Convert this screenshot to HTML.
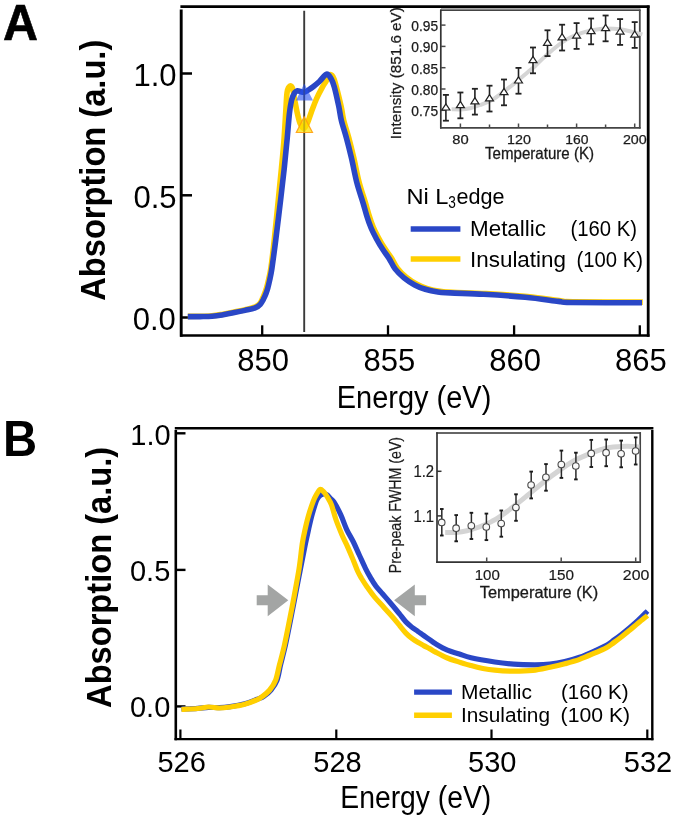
<!DOCTYPE html>
<html><head><meta charset="utf-8"><title>Figure</title>
<style>
html,body{margin:0;padding:0;background:#fff;}
body{width:675px;height:820px;overflow:hidden;font-family:"Liberation Sans",sans-serif;}
svg{display:block;will-change:transform;}
</style></head>
<body>
<svg width="675" height="820" viewBox="0 0 675 820">
<rect width="675" height="820" fill="#fff"/>
<line x1="180.4" y1="6.7" x2="649.6" y2="6.7" stroke="#000" stroke-width="2.7"/>
<line x1="181.2" y1="9.4" x2="181.2" y2="336.7" stroke="#000" stroke-width="2.9"/>
<line x1="180" y1="335.5" x2="649.5" y2="335.5" stroke="#000" stroke-width="2.4"/>
<line x1="648.2" y1="5.5" x2="648.2" y2="336.7" stroke="#000" stroke-width="2.8"/>
<line x1="181" y1="73.5" x2="192" y2="73.5" stroke="#000" stroke-width="2.5"/>
<line x1="181" y1="195.3" x2="192" y2="195.3" stroke="#000" stroke-width="2.5"/>
<line x1="181" y1="317.5" x2="192" y2="317.5" stroke="#000" stroke-width="2.5"/>
<line x1="262.2" y1="325.3" x2="262.2" y2="335.5" stroke="#000" stroke-width="2.3"/>
<line x1="388" y1="325.3" x2="388" y2="335.5" stroke="#000" stroke-width="2.3"/>
<line x1="514.1" y1="325.3" x2="514.1" y2="335.5" stroke="#000" stroke-width="2.3"/>
<line x1="639.8" y1="325.3" x2="639.8" y2="335.5" stroke="#000" stroke-width="2.3"/>
<text x="176.5" y="85.5" font-family="Liberation Sans, sans-serif" font-size="31" text-anchor="end">1.0</text>
<text x="176.5" y="207.6" font-family="Liberation Sans, sans-serif" font-size="31" text-anchor="end">0.5</text>
<text x="175.8" y="329.6" font-family="Liberation Sans, sans-serif" font-size="31" text-anchor="end">0.0</text>
<text x="263.1" y="371" font-family="Liberation Sans, sans-serif" font-size="31" text-anchor="middle">850</text>
<text x="389.3" y="371" font-family="Liberation Sans, sans-serif" font-size="31" text-anchor="middle">855</text>
<text x="515.2" y="371" font-family="Liberation Sans, sans-serif" font-size="31" text-anchor="middle">860</text>
<text x="640.8" y="371" font-family="Liberation Sans, sans-serif" font-size="31" text-anchor="middle">865</text>
<text transform="translate(104.8,300.7) rotate(-90)" font-family="Liberation Sans, sans-serif" font-weight="bold" font-size="34.5" textLength="261" lengthAdjust="spacingAndGlyphs">Absorption (a.u.)</text>
<text x="336.8" y="407.9" font-family="Liberation Sans, sans-serif" font-size="31" textLength="154.5" lengthAdjust="spacingAndGlyphs">Energy (eV)</text>
<text transform="translate(3.1,39.6) scale(0.97,1)" font-family="Liberation Sans, sans-serif" font-weight="bold" font-size="50" stroke="#000" stroke-width="0.6">A</text>
<path d="M187.8,316.4 C189.8,316.4 196.0,316.4 200.0,316.3 C204.0,316.2 208.3,316.1 212.0,315.8 C215.7,315.5 218.4,315.0 222.0,314.4 C225.6,313.8 229.5,313.0 233.3,312.2 C237.1,311.4 241.3,310.7 245.0,309.8 C248.7,308.9 252.7,307.9 255.2,306.9 C257.7,305.8 258.6,304.9 259.8,303.5 C261.0,302.1 261.7,300.1 262.6,298.3 C263.5,296.5 264.3,294.4 265.0,292.5 C265.7,290.6 266.2,289.2 266.8,287.0 C267.4,284.8 268.0,282.2 268.7,279.0 C269.4,275.8 269.9,274.9 270.9,268.0 C271.9,261.1 273.3,248.8 274.5,237.5 C275.7,226.2 277.1,211.6 278.3,200.0 C279.5,188.4 280.5,178.1 281.5,167.8 C282.5,157.6 283.4,148.2 284.1,138.5 C284.8,128.8 285.4,117.1 285.9,109.3 C286.4,101.5 286.5,95.6 287.2,91.7 C287.9,87.8 289.2,86.4 290.1,85.9 C291.0,85.4 292.0,86.6 292.7,88.8 C293.4,91.0 293.7,94.9 294.5,99.0 C295.3,103.1 296.4,109.4 297.4,113.6 C298.4,117.8 299.2,121.5 300.3,123.9 C301.4,126.4 302.8,128.6 304.0,128.3 C305.2,128.1 306.5,125.1 307.7,122.4 C308.9,119.7 309.9,116.1 311.3,112.2 C312.8,108.3 314.6,103.2 316.4,99.0 C318.2,94.8 320.7,90.2 322.3,87.3 C323.9,84.4 324.7,83.6 325.9,81.5 C327.1,79.4 328.2,75.0 329.6,74.6 C331.0,74.2 332.1,73.9 334.0,79.0 C335.9,84.1 339.3,98.5 340.9,105.3 C342.5,112.1 342.3,114.5 343.6,119.9 C344.9,125.3 347.0,131.2 348.7,137.5 C350.4,143.8 352.1,150.7 353.8,158.0 C355.5,165.3 357.0,174.0 358.9,181.4 C360.8,188.8 363.6,196.8 365.3,202.4 C367.0,208.0 367.6,210.8 368.9,214.9 C370.2,219.1 371.7,223.5 373.3,227.3 C374.9,231.2 376.7,234.4 378.6,238.0 C380.5,241.6 382.8,245.4 384.9,248.6 C387.0,251.9 389.0,254.2 391.1,257.5 C393.2,260.8 394.8,264.9 397.3,268.2 C399.8,271.5 402.9,274.4 406.2,277.1 C409.5,279.8 413.3,282.3 416.9,284.2 C420.4,286.1 423.6,287.4 427.5,288.6 C431.4,289.8 435.9,290.7 440.0,291.3 C444.1,291.9 444.8,291.8 452.4,292.2 C460.0,292.6 473.4,292.9 485.9,293.6 C498.4,294.3 515.0,295.4 527.4,296.6 C539.9,297.8 553.0,299.8 560.6,300.7 C568.2,301.6 559.4,301.6 573.1,301.8 C586.8,302.0 631.2,302.1 642.8,302.1" fill="none" stroke="#ffcf00" stroke-width="5.6" stroke-linejoin="round" stroke-linecap="butt"/>
<path d="M187.8,316.6 C189.8,316.6 196.0,316.7 200.0,316.6 C204.0,316.5 208.3,316.5 212.0,316.2 C215.7,315.9 218.4,315.5 222.0,314.9 C225.6,314.3 229.5,313.6 233.3,312.8 C237.1,312.1 241.3,311.3 245.0,310.4 C248.7,309.5 253.0,308.6 255.6,307.6 C258.1,306.6 259.0,305.7 260.3,304.3 C261.6,302.9 262.4,301.1 263.4,299.3 C264.3,297.5 265.3,295.4 266.0,293.5 C266.7,291.6 267.2,290.2 267.8,288.0 C268.4,285.8 269.0,283.2 269.7,280.0 C270.4,276.8 270.8,275.5 271.9,268.5 C272.9,261.5 274.6,249.2 276.0,237.8 C277.4,226.4 279.2,211.7 280.6,200.0 C282.0,188.3 283.2,178.1 284.3,167.8 C285.4,157.6 286.4,147.5 287.2,138.5 C288.0,129.5 288.7,120.0 289.4,113.6 C290.1,107.2 290.8,103.5 291.6,100.0 C292.5,96.5 293.5,94.5 294.5,92.9 C295.5,91.4 296.4,90.9 297.4,90.7 C298.4,90.5 299.2,91.2 300.3,91.5 C301.4,91.8 302.8,92.4 304.0,92.2 C305.2,92.0 306.1,91.5 307.7,90.5 C309.3,89.5 311.6,88.0 313.5,86.5 C315.4,85.0 317.2,83.5 319.4,81.5 C321.6,79.5 324.6,74.7 326.5,74.2 C328.4,73.7 329.7,76.4 331.0,78.5 C332.3,80.6 333.0,82.4 334.3,87.0 C335.6,91.6 337.5,100.4 338.7,106.0 C339.9,111.6 340.1,115.2 341.4,120.6 C342.7,126.0 344.8,131.8 346.5,138.2 C348.2,144.5 349.9,151.4 351.6,158.7 C353.3,166.0 354.8,174.7 356.7,182.1 C358.6,189.5 361.4,197.5 363.1,203.1 C364.8,208.7 365.4,211.4 366.7,215.6 C368.0,219.8 369.5,224.2 371.1,228.0 C372.7,231.8 374.5,235.1 376.4,238.7 C378.3,242.2 380.6,246.1 382.7,249.3 C384.8,252.6 386.8,254.9 388.9,258.2 C391.0,261.5 392.6,265.6 395.1,268.9 C397.6,272.2 400.7,275.1 404.0,277.8 C407.3,280.5 411.1,283.0 414.7,284.9 C418.2,286.8 421.4,288.1 425.3,289.3 C429.2,290.5 433.7,291.4 437.8,292.0 C441.9,292.6 442.6,292.5 450.2,292.9 C457.8,293.3 471.2,293.6 483.7,294.3 C496.2,295.0 512.8,296.1 525.2,297.3 C537.7,298.5 550.8,300.5 558.4,301.4 C566.0,302.3 557.0,302.3 570.9,302.5 C584.8,302.7 630.1,302.8 642.0,302.8" fill="none" stroke="#2a47c6" stroke-width="5.6" stroke-linejoin="round" stroke-linecap="butt"/>
<line x1="304.2" y1="10.7" x2="304.2" y2="331.9" stroke="#3a3a3a" stroke-width="1.9"/>
<polygon points="304.3,83.5 295.9,100.4 313,100.4" fill="#2450f0" fill-opacity="0.6"/>
<polygon points="304.2,116.8 296.3,132.5 312.5,132.5" fill="#ffe000" fill-opacity="0.72" stroke="#ff9f10" stroke-width="1.2" stroke-opacity="0.9"/>
<text x="406.5" y="204.4" font-family="Liberation Sans, sans-serif" font-size="22.5" textLength="42" lengthAdjust="spacingAndGlyphs">Ni L</text>
<text x="448.3" y="208.2" font-family="Liberation Sans, sans-serif" font-size="17" textLength="7.6" lengthAdjust="spacingAndGlyphs">3</text>
<text x="456.5" y="204.4" font-family="Liberation Sans, sans-serif" font-size="22.5" textLength="48" lengthAdjust="spacingAndGlyphs">edge</text>
<line x1="410.7" y1="229" x2="460.4" y2="229" stroke="#2a47c6" stroke-width="5.5"/>
<line x1="410.7" y1="259" x2="460.4" y2="259" stroke="#ffcf00" stroke-width="5.5"/>
<text x="470" y="236.2" font-family="Liberation Sans, sans-serif" font-size="22.5" textLength="76" lengthAdjust="spacingAndGlyphs">Metallic</text>
<text x="570.5" y="236.2" font-family="Liberation Sans, sans-serif" font-size="22.5" textLength="66.5" lengthAdjust="spacingAndGlyphs">(160 K)</text>
<text x="470" y="266.5" font-family="Liberation Sans, sans-serif" font-size="22.5" textLength="96" lengthAdjust="spacingAndGlyphs">Insulating</text>
<text x="576.5" y="266.5" font-family="Liberation Sans, sans-serif" font-size="22.5" textLength="66.5" lengthAdjust="spacingAndGlyphs">(100 K)</text>
<rect x="441" y="10.3" width="199" height="117.2" fill="#fff"/>
<rect x="441" y="8" width="199.5" height="1.7" fill="#aaa"/>
<line x1="440" y1="10.2" x2="640.6" y2="10.2" stroke="#444" stroke-width="1.4"/>
<line x1="440.8" y1="9.6" x2="440.8" y2="128.6" stroke="#333" stroke-width="1.7"/>
<line x1="440" y1="127.8" x2="640.6" y2="127.8" stroke="#444" stroke-width="1.8"/>
<line x1="639.8" y1="9.6" x2="639.8" y2="128.6" stroke="#4a4a4a" stroke-width="1.8"/>
<line x1="441" y1="25.1" x2="445.5" y2="25.1" stroke="#4a4a4a" stroke-width="1.5"/>
<line x1="441" y1="46.4" x2="445.5" y2="46.4" stroke="#4a4a4a" stroke-width="1.5"/>
<line x1="441" y1="67.7" x2="445.5" y2="67.7" stroke="#4a4a4a" stroke-width="1.5"/>
<line x1="441" y1="89" x2="445.5" y2="89" stroke="#4a4a4a" stroke-width="1.5"/>
<line x1="441" y1="110.3" x2="445.5" y2="110.3" stroke="#4a4a4a" stroke-width="1.5"/>
<line x1="460.4" y1="123.5" x2="460.4" y2="127.5" stroke="#4a4a4a" stroke-width="1.5"/>
<line x1="489.5" y1="124.5" x2="489.5" y2="127.5" stroke="#4a4a4a" stroke-width="1.5"/>
<line x1="518.5" y1="123.5" x2="518.5" y2="127.5" stroke="#4a4a4a" stroke-width="1.5"/>
<line x1="547.5" y1="124.5" x2="547.5" y2="127.5" stroke="#4a4a4a" stroke-width="1.5"/>
<line x1="576.6" y1="123.5" x2="576.6" y2="127.5" stroke="#4a4a4a" stroke-width="1.5"/>
<line x1="605.6" y1="124.5" x2="605.6" y2="127.5" stroke="#4a4a4a" stroke-width="1.5"/>
<line x1="634.7" y1="123.5" x2="634.7" y2="127.5" stroke="#4a4a4a" stroke-width="1.5"/>
<text x="411.3" y="30.6" font-family="Liberation Sans, sans-serif" font-size="14" fill="#1a1a1a" stroke="#1a1a1a" stroke-width="0.25" textLength="26.8" lengthAdjust="spacingAndGlyphs">0.95</text>
<text x="411.3" y="52.0" font-family="Liberation Sans, sans-serif" font-size="14" fill="#1a1a1a" stroke="#1a1a1a" stroke-width="0.25" textLength="26.8" lengthAdjust="spacingAndGlyphs">0.90</text>
<text x="411.3" y="73.5" font-family="Liberation Sans, sans-serif" font-size="14" fill="#1a1a1a" stroke="#1a1a1a" stroke-width="0.25" textLength="26.8" lengthAdjust="spacingAndGlyphs">0.85</text>
<text x="411.3" y="94.6" font-family="Liberation Sans, sans-serif" font-size="14" fill="#1a1a1a" stroke="#1a1a1a" stroke-width="0.25" textLength="26.8" lengthAdjust="spacingAndGlyphs">0.80</text>
<text x="411.3" y="116.2" font-family="Liberation Sans, sans-serif" font-size="14" fill="#1a1a1a" stroke="#1a1a1a" stroke-width="0.25" textLength="26.8" lengthAdjust="spacingAndGlyphs">0.75</text>
<text x="452.3" y="143.8" font-family="Liberation Sans, sans-serif" font-size="13.5" fill="#1a1a1a" stroke="#1a1a1a" stroke-width="0.25" textLength="16.4" lengthAdjust="spacingAndGlyphs">80</text>
<text x="507.1" y="143.8" font-family="Liberation Sans, sans-serif" font-size="13.5" fill="#1a1a1a" stroke="#1a1a1a" stroke-width="0.25" textLength="23.8" lengthAdjust="spacingAndGlyphs">120</text>
<text x="565.3" y="143.8" font-family="Liberation Sans, sans-serif" font-size="13.5" fill="#1a1a1a" stroke="#1a1a1a" stroke-width="0.25" textLength="23.2" lengthAdjust="spacingAndGlyphs">160</text>
<text x="622.9" y="143.8" font-family="Liberation Sans, sans-serif" font-size="13.5" fill="#1a1a1a" stroke="#1a1a1a" stroke-width="0.25" textLength="23.8" lengthAdjust="spacingAndGlyphs">200</text>
<text x="485" y="158.8" font-family="Liberation Sans, sans-serif" font-size="16.5" fill="#1a1a1a" stroke="#1a1a1a" stroke-width="0.3" textLength="109" lengthAdjust="spacingAndGlyphs">Temperature (K)</text>
<text transform="translate(400.5,139.2) rotate(-90)" font-family="Liberation Sans, sans-serif" font-size="15.5" fill="#1a1a1a" stroke="#1a1a1a" stroke-width="0.25" textLength="132" lengthAdjust="spacingAndGlyphs">Intensity (851.6 eV)</text>
<path d="M451.6,109.2 C453.1,109.2 457.6,109.6 460.7,109.4 C463.8,109.2 466.8,108.9 470.0,108.2 C473.2,107.5 476.4,106.4 480.0,105.0 C483.6,103.6 487.9,102.1 491.9,99.9 C495.8,97.7 499.8,94.5 503.7,91.6 C507.6,88.7 511.7,85.7 515.6,82.5 C519.6,79.3 524.2,75.2 527.4,72.5 C530.6,69.8 532.3,68.7 534.7,66.5 C537.1,64.3 539.5,61.7 541.9,59.4 C544.3,57.1 546.6,55.0 549.0,52.9 C551.4,50.8 553.7,48.9 556.1,47.0 C558.5,45.1 560.8,43.3 563.2,41.7 C565.6,40.1 567.9,38.7 570.3,37.5 C572.7,36.3 575.0,35.5 577.4,34.6 C579.8,33.7 582.1,32.9 584.5,32.2 C586.9,31.5 589.2,30.9 591.6,30.4 C594.0,29.9 596.3,29.5 598.7,29.2 C601.1,28.9 602.3,28.6 605.9,28.6 C609.5,28.6 615.9,28.8 620.3,29.3 C624.7,29.9 628.5,31.0 632.2,31.9 C635.9,32.8 640.7,34.0 642.4,34.4" fill="none" stroke="#d5d5d5" stroke-width="4" stroke-linecap="butt"/>
<line x1="445.9" y1="94.9" x2="445.9" y2="120.7" stroke="#222" stroke-width="1.6"/>
<line x1="442.9" y1="94.9" x2="448.9" y2="94.9" stroke="#222" stroke-width="1.8"/>
<line x1="442.9" y1="120.7" x2="448.9" y2="120.7" stroke="#222" stroke-width="1.8"/>
<polygon points="445.9,103.8 441.9,110.0 449.9,110.0" fill="#fff" stroke="#222" stroke-width="1.2"/>
<line x1="460.4" y1="92.5" x2="460.4" y2="118.3" stroke="#222" stroke-width="1.6"/>
<line x1="457.4" y1="92.5" x2="463.4" y2="92.5" stroke="#222" stroke-width="1.8"/>
<line x1="457.4" y1="118.3" x2="463.4" y2="118.3" stroke="#222" stroke-width="1.8"/>
<polygon points="460.4,101.4 456.4,107.6 464.4,107.6" fill="#fff" stroke="#222" stroke-width="1.2"/>
<line x1="474.9" y1="88.8" x2="474.9" y2="114.6" stroke="#222" stroke-width="1.6"/>
<line x1="471.9" y1="88.8" x2="477.9" y2="88.8" stroke="#222" stroke-width="1.8"/>
<line x1="471.9" y1="114.6" x2="477.9" y2="114.6" stroke="#222" stroke-width="1.8"/>
<polygon points="474.9,97.7 470.9,103.9 478.9,103.9" fill="#fff" stroke="#222" stroke-width="1.2"/>
<line x1="489.5" y1="85.7" x2="489.5" y2="111.5" stroke="#222" stroke-width="1.6"/>
<line x1="486.5" y1="85.7" x2="492.5" y2="85.7" stroke="#222" stroke-width="1.8"/>
<line x1="486.5" y1="111.5" x2="492.5" y2="111.5" stroke="#222" stroke-width="1.8"/>
<polygon points="489.5,94.6 485.5,100.8 493.5,100.8" fill="#fff" stroke="#222" stroke-width="1.2"/>
<line x1="504.0" y1="79.5" x2="504.0" y2="105.3" stroke="#222" stroke-width="1.6"/>
<line x1="501.0" y1="79.5" x2="507.0" y2="79.5" stroke="#222" stroke-width="1.8"/>
<line x1="501.0" y1="105.3" x2="507.0" y2="105.3" stroke="#222" stroke-width="1.8"/>
<polygon points="504.0,88.4 500.0,94.6 508.0,94.6" fill="#fff" stroke="#222" stroke-width="1.2"/>
<line x1="518.5" y1="67.9" x2="518.5" y2="93.7" stroke="#222" stroke-width="1.6"/>
<line x1="515.5" y1="67.9" x2="521.5" y2="67.9" stroke="#222" stroke-width="1.8"/>
<line x1="515.5" y1="93.7" x2="521.5" y2="93.7" stroke="#222" stroke-width="1.8"/>
<polygon points="518.5,76.8 514.5,83.0 522.5,83.0" fill="#fff" stroke="#222" stroke-width="1.2"/>
<line x1="533.0" y1="47.5" x2="533.0" y2="73.3" stroke="#222" stroke-width="1.6"/>
<line x1="530.0" y1="47.5" x2="536.0" y2="47.5" stroke="#222" stroke-width="1.8"/>
<line x1="530.0" y1="73.3" x2="536.0" y2="73.3" stroke="#222" stroke-width="1.8"/>
<polygon points="533.0,56.4 529.0,62.6 537.0,62.6" fill="#fff" stroke="#222" stroke-width="1.2"/>
<line x1="547.5" y1="30.3" x2="547.5" y2="56.1" stroke="#222" stroke-width="1.6"/>
<line x1="544.5" y1="30.3" x2="550.5" y2="30.3" stroke="#222" stroke-width="1.8"/>
<line x1="544.5" y1="56.1" x2="550.5" y2="56.1" stroke="#222" stroke-width="1.8"/>
<polygon points="547.5,39.2 543.5,45.4 551.5,45.4" fill="#fff" stroke="#222" stroke-width="1.2"/>
<line x1="562.1" y1="24.7" x2="562.1" y2="50.5" stroke="#222" stroke-width="1.6"/>
<line x1="559.1" y1="24.7" x2="565.1" y2="24.7" stroke="#222" stroke-width="1.8"/>
<line x1="559.1" y1="50.5" x2="565.1" y2="50.5" stroke="#222" stroke-width="1.8"/>
<polygon points="562.1,33.6 558.1,39.8 566.1,39.8" fill="#fff" stroke="#222" stroke-width="1.2"/>
<line x1="576.6" y1="23.1" x2="576.6" y2="48.9" stroke="#222" stroke-width="1.6"/>
<line x1="573.6" y1="23.1" x2="579.6" y2="23.1" stroke="#222" stroke-width="1.8"/>
<line x1="573.6" y1="48.9" x2="579.6" y2="48.9" stroke="#222" stroke-width="1.8"/>
<polygon points="576.6,32.0 572.6,38.2 580.6,38.2" fill="#fff" stroke="#222" stroke-width="1.2"/>
<line x1="591.1" y1="18.5" x2="591.1" y2="44.3" stroke="#222" stroke-width="1.6"/>
<line x1="588.1" y1="18.5" x2="594.1" y2="18.5" stroke="#222" stroke-width="1.8"/>
<line x1="588.1" y1="44.3" x2="594.1" y2="44.3" stroke="#222" stroke-width="1.8"/>
<polygon points="591.1,27.4 587.1,33.6 595.1,33.6" fill="#fff" stroke="#222" stroke-width="1.2"/>
<line x1="605.6" y1="15.5" x2="605.6" y2="41.3" stroke="#222" stroke-width="1.6"/>
<line x1="602.6" y1="15.5" x2="608.6" y2="15.5" stroke="#222" stroke-width="1.8"/>
<line x1="602.6" y1="41.3" x2="608.6" y2="41.3" stroke="#222" stroke-width="1.8"/>
<polygon points="605.6,24.4 601.6,30.6 609.6,30.6" fill="#fff" stroke="#222" stroke-width="1.2"/>
<line x1="620.1" y1="19.1" x2="620.1" y2="44.9" stroke="#222" stroke-width="1.6"/>
<line x1="617.1" y1="19.1" x2="623.1" y2="19.1" stroke="#222" stroke-width="1.8"/>
<line x1="617.1" y1="44.9" x2="623.1" y2="44.9" stroke="#222" stroke-width="1.8"/>
<polygon points="620.1,28.0 616.1,34.2 624.1,34.2" fill="#fff" stroke="#222" stroke-width="1.2"/>
<line x1="634.7" y1="22.1" x2="634.7" y2="47.9" stroke="#222" stroke-width="1.6"/>
<line x1="631.7" y1="22.1" x2="637.7" y2="22.1" stroke="#222" stroke-width="1.8"/>
<line x1="631.7" y1="47.9" x2="637.7" y2="47.9" stroke="#222" stroke-width="1.8"/>
<polygon points="634.7,31.0 630.7,37.2 638.7,37.2" fill="#fff" stroke="#222" stroke-width="1.2"/>
<line x1="174.8" y1="428.2" x2="653.4" y2="428.2" stroke="#000" stroke-width="2.5"/>
<line x1="175.8" y1="430" x2="175.8" y2="740.2" stroke="#000" stroke-width="2.6"/>
<line x1="174.5" y1="739.1" x2="653.4" y2="739.1" stroke="#000" stroke-width="2.2"/>
<line x1="652.3" y1="430" x2="652.3" y2="740.2" stroke="#000" stroke-width="2.4"/>
<line x1="176" y1="433.3" x2="185.5" y2="433.3" stroke="#000" stroke-width="2.4"/>
<line x1="176" y1="569.9" x2="185.5" y2="569.9" stroke="#000" stroke-width="2.4"/>
<line x1="176" y1="706.4" x2="185.5" y2="706.4" stroke="#000" stroke-width="2.4"/>
<line x1="180.4" y1="729.5" x2="180.4" y2="739" stroke="#000" stroke-width="2.2"/>
<line x1="336.3" y1="729.5" x2="336.3" y2="739" stroke="#000" stroke-width="2.2"/>
<line x1="491.5" y1="729.5" x2="491.5" y2="739" stroke="#000" stroke-width="2.2"/>
<line x1="647.3" y1="729.5" x2="647.3" y2="739" stroke="#000" stroke-width="2.2"/>
<text x="170.6" y="444.6" font-family="Liberation Sans, sans-serif" font-size="29" text-anchor="end">1.0</text>
<text x="170.3" y="581.4" font-family="Liberation Sans, sans-serif" font-size="29" text-anchor="end">0.5</text>
<text x="170.3" y="717.1" font-family="Liberation Sans, sans-serif" font-size="29" text-anchor="end">0.0</text>
<text x="181.6" y="772" font-family="Liberation Sans, sans-serif" font-size="29" text-anchor="middle">526</text>
<text x="337.5" y="772" font-family="Liberation Sans, sans-serif" font-size="29" text-anchor="middle">528</text>
<text x="492.3" y="772" font-family="Liberation Sans, sans-serif" font-size="29" text-anchor="middle">530</text>
<text x="648.0" y="772" font-family="Liberation Sans, sans-serif" font-size="29" text-anchor="middle">532</text>
<text transform="translate(111.1,707.9) rotate(-90)" font-family="Liberation Sans, sans-serif" font-weight="bold" font-size="34.5" textLength="261" lengthAdjust="spacingAndGlyphs">Absorption (a.u.)</text>
<text x="340.3" y="807.9" font-family="Liberation Sans, sans-serif" font-size="31" textLength="151" lengthAdjust="spacingAndGlyphs">Energy (eV)</text>
<text transform="translate(2.9,456.2) scale(0.955,1)" font-family="Liberation Sans, sans-serif" font-weight="bold" font-size="49.5">B</text>
<polygon points="256.7,595.2 267.7,595.2 267.7,584.5 288.3,600.3 267.7,616.3 267.7,605.3 256.7,605.3" fill="#a3a5a4"/>
<polygon points="426.1,595.2 414.8,595.2 414.8,584.5 394.1,600.3 414.8,616.3 414.8,605.3 426.1,605.3" fill="#a3a5a4"/>
<path d="M181.4,709.0 C184.1,708.9 193.2,708.6 197.7,708.3 C202.2,708.0 204.9,707.5 208.5,707.4 C212.1,707.3 215.8,707.7 219.4,707.6 C223.0,707.5 226.0,707.2 230.2,706.6 C234.4,706.0 240.2,705.0 244.7,703.8 C249.2,702.6 254.2,700.4 257.3,699.2 C260.4,698.0 261.2,698.0 263.5,696.5 C265.8,695.0 268.8,692.7 271.0,690.0 C273.2,687.3 275.4,684.5 277.0,680.3 C278.6,676.1 279.2,670.6 280.6,664.7 C282.0,658.9 283.8,652.4 285.4,645.2 C287.0,638.1 288.6,629.9 290.2,621.8 C291.8,613.7 293.4,605.3 295.1,596.5 C296.8,587.7 298.7,578.0 300.4,569.2 C302.1,560.4 304.1,550.2 305.5,543.5 C306.9,536.8 307.6,533.8 308.7,528.9 C309.8,524.0 310.9,518.9 312.2,514.3 C313.5,509.7 315.2,504.1 316.3,501.1 C317.4,498.1 318.1,497.6 319.0,496.5 C319.9,495.4 320.6,494.9 321.5,494.5 C322.4,494.1 323.5,493.9 324.5,494.0 C325.5,494.1 326.4,494.2 327.4,495.0 C328.4,495.8 329.4,497.3 330.5,498.5 C331.6,499.7 332.2,499.3 333.9,502.0 C335.6,504.7 338.6,510.1 340.7,514.6 C342.8,519.1 344.5,524.7 346.6,529.3 C348.7,533.9 351.3,537.7 353.4,542.0 C355.5,546.3 357.3,550.7 359.3,555.0 C361.3,559.3 363.4,564.1 365.2,567.8 C367.0,571.5 368.5,574.2 370.2,577.1 C371.9,580.0 373.3,582.6 375.4,585.4 C377.4,588.2 380.1,590.9 382.5,593.7 C384.9,596.5 387.2,599.2 389.6,602.0 C392.0,604.8 395.0,608.4 396.7,610.5 C398.4,612.6 398.5,612.6 400.0,614.5 C401.5,616.4 403.9,619.8 405.9,621.9 C407.9,624.0 409.9,625.6 411.9,627.2 C413.9,628.8 415.8,629.9 417.8,631.3 C419.8,632.7 421.7,634.1 423.7,635.5 C425.7,636.9 427.6,638.2 429.6,639.6 C431.6,641.0 432.6,642.0 435.6,643.8 C438.6,645.6 443.4,648.5 447.4,650.2 C451.3,651.9 455.4,652.7 459.3,654.0 C463.2,655.3 465.2,656.5 471.1,657.8 C477.0,659.1 487.7,660.9 494.8,662.0 C501.9,663.1 507.1,663.7 513.8,664.2 C520.5,664.7 529.0,664.8 535.0,664.8 C541.0,664.8 545.0,664.7 550.0,664.2 C555.0,663.7 559.9,662.8 564.8,661.6 C569.7,660.5 574.7,659.1 579.6,657.3 C584.5,655.5 590.0,653.0 594.4,651.0 C598.8,649.0 602.7,647.3 606.0,645.5 C609.3,643.7 611.3,641.9 614.0,640.0 C616.7,638.1 619.3,636.1 622.0,634.0 C624.7,631.9 627.3,629.8 630.0,627.5 C632.7,625.2 635.1,623.2 638.0,620.5 C640.9,617.8 645.9,612.6 647.5,611.0" fill="none" stroke="#2a47c6" stroke-width="5.2" stroke-linejoin="round"/>
<path d="M181.4,709.5 C184.1,709.3 193.2,708.9 197.7,708.5 C202.2,708.1 204.9,707.1 208.5,707.0 C212.1,706.9 215.8,708.0 219.4,708.0 C223.0,708.0 226.0,707.6 230.2,707.0 C234.4,706.4 240.2,705.5 244.7,704.3 C249.2,703.1 254.4,700.9 257.3,699.6 C260.2,698.4 259.9,698.4 262.0,696.8 C264.1,695.2 267.4,692.8 269.7,690.0 C272.0,687.2 274.0,684.5 275.6,680.3 C277.2,676.1 278.0,670.6 279.5,664.7 C281.0,658.9 282.8,652.4 284.4,645.2 C286.0,638.1 287.6,629.9 289.2,621.8 C290.8,613.7 292.5,605.3 294.1,596.5 C295.7,587.7 297.6,578.0 299.0,569.2 C300.4,560.4 301.3,550.2 302.3,543.5 C303.3,536.8 304.1,533.8 305.2,528.9 C306.3,524.0 307.5,518.9 308.9,514.3 C310.2,509.7 312.0,504.5 313.3,501.1 C314.6,497.7 315.8,495.8 316.9,493.8 C318.0,491.9 319.1,489.8 320.2,489.4 C321.3,489.0 322.3,490.4 323.5,491.6 C324.7,492.8 325.9,494.5 327.2,496.7 C328.5,498.9 330.1,501.1 331.5,504.9 C332.9,508.7 334.2,514.6 335.9,519.5 C337.6,524.4 339.8,529.6 341.7,534.2 C343.6,538.8 345.7,542.5 347.6,546.9 C349.6,551.3 351.7,556.4 353.4,560.5 C355.1,564.6 356.4,568.5 357.8,571.5 C359.2,574.5 360.1,575.9 361.6,578.5 C363.2,581.1 365.0,584.0 367.1,587.0 C369.2,590.0 371.6,593.5 374.2,596.6 C376.8,599.7 379.7,602.7 382.5,605.8 C385.3,608.9 388.2,612.1 390.8,615.0 C393.4,617.9 396.4,621.5 397.9,623.3 C399.4,625.1 398.7,624.4 400.0,626.0 C401.3,627.6 403.9,631.0 405.9,633.1 C407.9,635.2 409.9,636.9 411.9,638.4 C413.9,639.9 415.8,641.1 417.8,642.3 C419.8,643.5 421.7,644.5 423.7,645.6 C425.7,646.7 427.6,647.5 429.6,648.6 C431.6,649.7 432.6,650.5 435.6,652.1 C438.6,653.7 443.4,656.3 447.4,658.0 C451.3,659.7 455.4,660.8 459.3,662.1 C463.2,663.4 467.2,664.5 471.1,665.6 C475.0,666.7 478.9,667.7 482.9,668.5 C486.8,669.3 489.7,669.8 494.8,670.2 C499.9,670.7 507.5,671.2 513.8,671.2 C520.1,671.2 526.7,671.1 532.7,670.4 C538.7,669.7 544.6,668.3 550.0,667.2 C555.4,666.1 559.9,665.1 564.8,663.8 C569.7,662.5 574.7,661.2 579.6,659.4 C584.5,657.6 590.0,655.1 594.4,653.2 C598.8,651.3 602.7,649.8 606.0,648.0 C609.3,646.2 611.3,644.4 614.0,642.5 C616.7,640.6 619.3,638.6 622.0,636.5 C624.7,634.4 627.3,632.2 630.0,630.0 C632.7,627.8 635.1,625.6 638.0,623.2 C640.9,620.8 645.9,616.8 647.5,615.5" fill="none" stroke="#ffcf00" stroke-width="5.2" stroke-linejoin="round"/>
<line x1="414.1" y1="692.1" x2="451.9" y2="692.1" stroke="#2a47c6" stroke-width="5.2"/>
<line x1="414.1" y1="715.2" x2="451.9" y2="715.2" stroke="#ffcf00" stroke-width="5.5"/>
<text x="461" y="698.9" font-family="Liberation Sans, sans-serif" font-size="19.5" textLength="71" lengthAdjust="spacingAndGlyphs">Metallic</text>
<text x="561" y="698.9" font-family="Liberation Sans, sans-serif" font-size="19.5" textLength="67.5" lengthAdjust="spacingAndGlyphs">(160 K)</text>
<text x="461" y="721.8" font-family="Liberation Sans, sans-serif" font-size="19.5" textLength="89" lengthAdjust="spacingAndGlyphs">Insulating</text>
<text x="560.6" y="721.8" font-family="Liberation Sans, sans-serif" font-size="19.5" textLength="69.5" lengthAdjust="spacingAndGlyphs">(100 K)</text>
<rect x="437" y="433" width="203" height="129" fill="#fff"/>
<line x1="436.2" y1="433" x2="641" y2="433" stroke="#666" stroke-width="1.8"/>
<line x1="437" y1="432.2" x2="437" y2="563" stroke="#333" stroke-width="1.7"/>
<line x1="436.2" y1="562.2" x2="641" y2="562.2" stroke="#333" stroke-width="1.8"/>
<line x1="640.2" y1="432.2" x2="640.2" y2="563" stroke="#444" stroke-width="1.7"/>
<line x1="437" y1="471.3" x2="441.5" y2="471.3" stroke="#333" stroke-width="1.5"/>
<line x1="437" y1="515.9" x2="441.5" y2="515.9" stroke="#333" stroke-width="1.5"/>
<line x1="486.7" y1="557.5" x2="486.7" y2="561.6" stroke="#4a4a4a" stroke-width="1.5"/>
<line x1="561.2" y1="557.5" x2="561.2" y2="561.6" stroke="#4a4a4a" stroke-width="1.5"/>
<line x1="635.7" y1="557.5" x2="635.7" y2="561.6" stroke="#4a4a4a" stroke-width="1.5"/>
<text x="434" y="477.2" font-family="Liberation Sans, sans-serif" font-size="16.5" text-anchor="end" fill="#1a1a1a" stroke="#1a1a1a" stroke-width="0.2" textLength="20.6" lengthAdjust="spacingAndGlyphs">1.2</text>
<text x="434" y="522.0" font-family="Liberation Sans, sans-serif" font-size="16.5" text-anchor="end" fill="#1a1a1a" stroke="#1a1a1a" stroke-width="0.2" textLength="20.6" lengthAdjust="spacingAndGlyphs">1.1</text>
<text x="474.7" y="580.4" font-family="Liberation Sans, sans-serif" font-size="15.3" fill="#1a1a1a" stroke="#1a1a1a" stroke-width="0.2" textLength="25.1" lengthAdjust="spacingAndGlyphs">100</text>
<text x="548.5" y="580.4" font-family="Liberation Sans, sans-serif" font-size="15.3" fill="#1a1a1a" stroke="#1a1a1a" stroke-width="0.2" textLength="25.5" lengthAdjust="spacingAndGlyphs">150</text>
<text x="622.8" y="580.4" font-family="Liberation Sans, sans-serif" font-size="15.3" fill="#1a1a1a" stroke="#1a1a1a" stroke-width="0.2" textLength="26.5" lengthAdjust="spacingAndGlyphs">200</text>
<text x="479.8" y="598.4" font-family="Liberation Sans, sans-serif" font-size="16.5" fill="#1a1a1a" stroke="#1a1a1a" stroke-width="0.3" textLength="118.3" lengthAdjust="spacingAndGlyphs">Temperature (K)</text>
<text transform="translate(401,573.3) rotate(-90)" font-family="Liberation Sans, sans-serif" font-size="16" fill="#1a1a1a" stroke="#1a1a1a" stroke-width="0.2" textLength="136.4" lengthAdjust="spacingAndGlyphs">Pre-peak FWHM (eV)</text>
<path d="M445.2,532.4 C447.0,532.4 452.4,532.7 456.0,532.4 C459.6,532.1 462.9,531.7 466.8,530.8 C470.7,529.9 475.0,528.5 479.1,527.0 C483.2,525.5 488.0,523.4 491.5,521.6 C495.0,519.9 496.1,519.2 500.0,516.5 C503.9,513.8 509.9,509.4 514.8,505.6 C519.7,501.8 524.7,497.6 529.6,493.6 C534.5,489.6 539.5,485.4 544.4,481.5 C549.3,477.6 554.3,473.9 559.3,470.4 C564.2,466.9 569.2,463.4 574.1,460.7 C579.0,458.0 584.6,455.8 588.9,454.0 C593.2,452.2 596.5,450.9 600.0,449.8 C603.5,448.7 605.1,448.0 609.6,447.4 C614.1,446.8 621.7,446.4 626.7,446.3 C631.7,446.2 637.4,446.9 639.5,447.0" fill="none" stroke="#d4d4d4" stroke-width="5" stroke-linecap="butt"/>
<line x1="441.8" y1="509" x2="441.8" y2="535.5" stroke="#2a2a2a" stroke-width="1.5"/>
<line x1="440.0" y1="509" x2="443.6" y2="509" stroke="#1a1a1a" stroke-width="1.9"/>
<line x1="440.0" y1="535.5" x2="443.6" y2="535.5" stroke="#1a1a1a" stroke-width="1.9"/>
<circle cx="441.7" cy="522.4" r="3.3" fill="#fafafa" stroke="#4a4a4a" stroke-width="1.1"/>
<line x1="456.2" y1="515.1" x2="456.2" y2="541.3" stroke="#2a2a2a" stroke-width="1.5"/>
<line x1="454.4" y1="515.1" x2="458.0" y2="515.1" stroke="#1a1a1a" stroke-width="1.9"/>
<line x1="454.4" y1="541.3" x2="458.0" y2="541.3" stroke="#1a1a1a" stroke-width="1.9"/>
<circle cx="456.1" cy="528.2" r="3.3" fill="#fafafa" stroke="#4a4a4a" stroke-width="1.1"/>
<line x1="471.4" y1="512.8" x2="471.4" y2="539" stroke="#2a2a2a" stroke-width="1.5"/>
<line x1="469.6" y1="512.8" x2="473.2" y2="512.8" stroke="#1a1a1a" stroke-width="1.9"/>
<line x1="469.6" y1="539" x2="473.2" y2="539" stroke="#1a1a1a" stroke-width="1.9"/>
<circle cx="471.3" cy="525.8" r="3.3" fill="#fafafa" stroke="#4a4a4a" stroke-width="1.1"/>
<line x1="486.4" y1="513.6" x2="486.4" y2="540.1" stroke="#2a2a2a" stroke-width="1.5"/>
<line x1="484.6" y1="513.6" x2="488.2" y2="513.6" stroke="#1a1a1a" stroke-width="1.9"/>
<line x1="484.6" y1="540.1" x2="488.2" y2="540.1" stroke="#1a1a1a" stroke-width="1.9"/>
<circle cx="486.3" cy="527" r="3.3" fill="#fafafa" stroke="#4a4a4a" stroke-width="1.1"/>
<line x1="501.3" y1="510.5" x2="501.3" y2="536.7" stroke="#2a2a2a" stroke-width="1.5"/>
<line x1="499.5" y1="510.5" x2="503.1" y2="510.5" stroke="#1a1a1a" stroke-width="1.9"/>
<line x1="499.5" y1="536.7" x2="503.1" y2="536.7" stroke="#1a1a1a" stroke-width="1.9"/>
<circle cx="501.2" cy="523.6" r="3.3" fill="#fafafa" stroke="#4a4a4a" stroke-width="1.1"/>
<line x1="516.0" y1="494.3" x2="516.0" y2="520.8" stroke="#2a2a2a" stroke-width="1.5"/>
<line x1="514.2" y1="494.3" x2="517.8" y2="494.3" stroke="#1a1a1a" stroke-width="1.9"/>
<line x1="514.2" y1="520.8" x2="517.8" y2="520.8" stroke="#1a1a1a" stroke-width="1.9"/>
<circle cx="515.9" cy="507.5" r="3.3" fill="#fafafa" stroke="#4a4a4a" stroke-width="1.1"/>
<line x1="531.2" y1="471.6" x2="531.2" y2="498.4" stroke="#2a2a2a" stroke-width="1.5"/>
<line x1="529.4" y1="471.6" x2="533.0" y2="471.6" stroke="#1a1a1a" stroke-width="1.9"/>
<line x1="529.4" y1="498.4" x2="533.0" y2="498.4" stroke="#1a1a1a" stroke-width="1.9"/>
<circle cx="531.1" cy="485" r="3.3" fill="#fafafa" stroke="#4a4a4a" stroke-width="1.1"/>
<line x1="546.0" y1="464.1" x2="546.0" y2="490.7" stroke="#2a2a2a" stroke-width="1.5"/>
<line x1="544.2" y1="464.1" x2="547.8" y2="464.1" stroke="#1a1a1a" stroke-width="1.9"/>
<line x1="544.2" y1="490.7" x2="547.8" y2="490.7" stroke="#1a1a1a" stroke-width="1.9"/>
<circle cx="545.9" cy="477.3" r="3.3" fill="#fafafa" stroke="#4a4a4a" stroke-width="1.1"/>
<line x1="561.4" y1="450.6" x2="561.4" y2="477.9" stroke="#2a2a2a" stroke-width="1.5"/>
<line x1="559.6" y1="450.6" x2="563.2" y2="450.6" stroke="#1a1a1a" stroke-width="1.9"/>
<line x1="559.6" y1="477.9" x2="563.2" y2="477.9" stroke="#1a1a1a" stroke-width="1.9"/>
<circle cx="561.3" cy="464.5" r="3.3" fill="#fafafa" stroke="#4a4a4a" stroke-width="1.1"/>
<line x1="575.9" y1="452.7" x2="575.9" y2="479.4" stroke="#2a2a2a" stroke-width="1.5"/>
<line x1="574.1" y1="452.7" x2="577.7" y2="452.7" stroke="#1a1a1a" stroke-width="1.9"/>
<line x1="574.1" y1="479.4" x2="577.7" y2="479.4" stroke="#1a1a1a" stroke-width="1.9"/>
<circle cx="575.8" cy="466" r="3.3" fill="#fafafa" stroke="#4a4a4a" stroke-width="1.1"/>
<line x1="591.3" y1="439.9" x2="591.3" y2="467" stroke="#2a2a2a" stroke-width="1.5"/>
<line x1="589.5" y1="439.9" x2="593.1" y2="439.9" stroke="#1a1a1a" stroke-width="1.9"/>
<line x1="589.5" y1="467" x2="593.1" y2="467" stroke="#1a1a1a" stroke-width="1.9"/>
<circle cx="591.2" cy="453.4" r="3.3" fill="#fafafa" stroke="#4a4a4a" stroke-width="1.1"/>
<line x1="606.2" y1="439.5" x2="606.2" y2="466.2" stroke="#2a2a2a" stroke-width="1.5"/>
<line x1="604.4" y1="439.5" x2="608.0" y2="439.5" stroke="#1a1a1a" stroke-width="1.9"/>
<line x1="604.4" y1="466.2" x2="608.0" y2="466.2" stroke="#1a1a1a" stroke-width="1.9"/>
<circle cx="606.1" cy="452.7" r="3.3" fill="#fafafa" stroke="#4a4a4a" stroke-width="1.1"/>
<line x1="621.2" y1="440.6" x2="621.2" y2="467.3" stroke="#2a2a2a" stroke-width="1.5"/>
<line x1="619.4" y1="440.6" x2="623.0" y2="440.6" stroke="#1a1a1a" stroke-width="1.9"/>
<line x1="619.4" y1="467.3" x2="623.0" y2="467.3" stroke="#1a1a1a" stroke-width="1.9"/>
<circle cx="621.1" cy="453.8" r="3.3" fill="#fafafa" stroke="#4a4a4a" stroke-width="1.1"/>
<line x1="635.7" y1="437.4" x2="635.7" y2="464.5" stroke="#2a2a2a" stroke-width="1.5"/>
<line x1="633.9" y1="437.4" x2="637.5" y2="437.4" stroke="#1a1a1a" stroke-width="1.9"/>
<line x1="633.9" y1="464.5" x2="637.5" y2="464.5" stroke="#1a1a1a" stroke-width="1.9"/>
<circle cx="635.6" cy="451" r="3.3" fill="#fafafa" stroke="#4a4a4a" stroke-width="1.1"/>
</svg>
</body></html>
